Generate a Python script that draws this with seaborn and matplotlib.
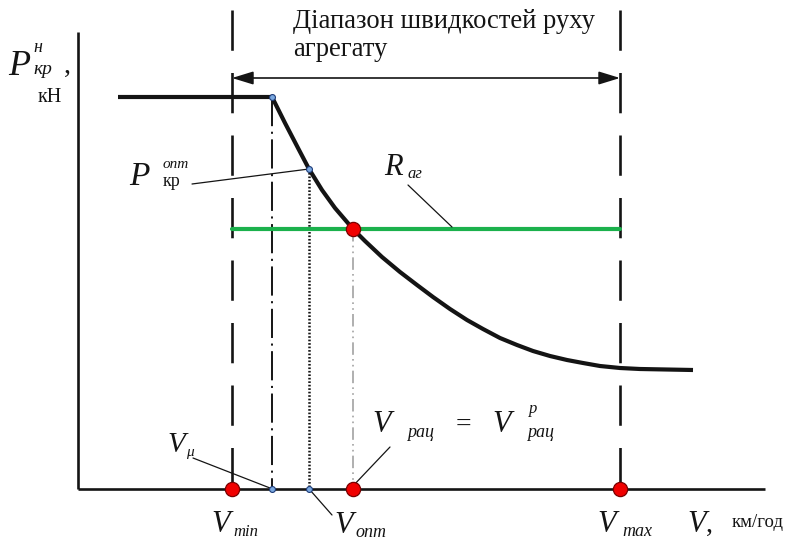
import matplotlib
matplotlib.use("Agg")
import matplotlib.pyplot as plt
import seaborn as sns
import pandas as pd

# Tractive characteristic (schematic units): speed V vs drawbar pull P
speed = [40, 194, 207, 220, 231, 244, 257, 275, 287, 304, 322, 339, 355, 372, 389,
         405, 422, 439, 455, 472, 489, 505, 522, 542, 562, 615]
pull = [392, 392, 366, 341, 320, 299, 281, 260, 248, 232, 217, 204, 192, 180, 169,
        160, 151, 144, 138, 133, 129, 126, 123, 121, 120, 119]

v_min, v_max = 154, 542          # speed range of the unit
v_mu, v_opt, v_rac = 194, 231, 275
p_nom, p_opt = 392, 320
r_ag = 260                       # resistance of the unit

sns.set_theme(style="white")
plt.rcParams["lines.scale_dashes"] = False
plt.rcParams["font.family"] = ["Liberation Serif", "DejaVu Serif"]

fig = plt.figure(figsize=(7.96, 5.41), dpi=100)
ax = fig.add_axes([0, 0, 1, 1])
ax.set_xlim(-78, 718)
ax.set_ylim(-52, 489)
ax.axis("off")

INK = "#141414"

# axes
ax.plot([0, 0], [0, 457], color=INK, lw=1.9, solid_capstyle="butt")
ax.plot([0, 687], [0, 0], color=INK, lw=1.9, solid_capstyle="butt")

# boundaries of the speed range
for v in (v_min, v_max):
    ax.plot([v, v], [479, 0], color=INK, lw=1.9, linestyle=(0, (29, 16)))

# double arrow over the speed range
ax.annotate("", xy=(v_max, 411), xytext=(v_min, 411),
            arrowprops=dict(arrowstyle="<|-|>,head_length=0.65,head_width=0.2",
                            mutation_scale=20, lw=1.2, color=INK,
                            shrinkA=0, shrinkB=0))

# projections of the characteristic points
ax.plot([v_mu, v_mu], [p_nom, 0], color=INK, lw=1.4, linestyle=(0, (21, 4, 1.5, 4)))
ax.plot([v_opt, v_opt], [p_opt, 0], color=INK, lw=1.8, linestyle=(0, (1.2, 1.3)))
ax.plot([v_rac, v_rac], [r_ag, 0], color="#9a9a9a", lw=1.1,
        linestyle=(0, (9, 3, 1.2, 3, 1.2, 3)))

# resistance line
sns.lineplot(x=[v_min, v_max], y=[r_ag, r_ag], ax=ax, color="#1bb14c", lw=3.0)

# drawbar pull curve
curve = pd.DataFrame({"V": speed, "P": pull})
sns.lineplot(data=curve, x="V", y="P", sort=False, ax=ax, color=INK, lw=3.0,
             solid_joinstyle="round", solid_capstyle="butt")

# leader lines
leaders = [((192, 184), (309, 169)), ((408, 185), (452, 227)),
           ((352, 487), (390, 447)), ((193, 458), (270, 488)),
           ((310, 490), (332, 515))]
for (x1, y1), (x2, y2) in leaders:
    ax.plot([x1 - 78, x2 - 78], [489 - y1, 489 - y2], color=INK, lw=0.9)

# characteristic points
blue_pts = pd.DataFrame({"V": [v_mu, v_opt, v_mu, v_opt], "P": [p_nom, p_opt, 0, 0]})
sns.scatterplot(data=blue_pts, x="V", y="P", ax=ax, s=18, color="#7aa8e0",
                edgecolor="#1e3c78", linewidth=0.8, zorder=5)
red_pts = pd.DataFrame({"V": [v_rac, v_min, v_rac, v_max], "P": [r_ag, 0, 0, 0]})
sns.scatterplot(data=red_pts, x="V", y="P", ax=ax, s=105, color="#f00000",
                edgecolor="#7a0000", linewidth=0.9, zorder=6)


def put(px, py, s, size, italic=True, **kw):
    ax.text(px - 78, 489 - py, s, fontsize=size, color=INK,
            fontstyle="italic" if italic else "normal",
            ha="left", va="baseline", **kw)


# y axis title
put(8, 75, "P", 26)
put(33, 52, "н", 13)
put(33, 74, "кр", 14)
put(64, 73, ",", 20, italic=False)
put(38, 102, "кН", 14.5, italic=False)

# speed range caption
put(293, 28, "Діапазон швидкостей руху", 19.2, italic=False)
put(293, 56, "агрегату", 19.2, italic=False)

# P opt
put(129, 185, "P", 24)
put(163, 168, "опт", 11)
put(163, 186, "кр", 13, italic=False)

# R ag
put(384, 175, "R", 22)
put(407, 178, "аг", 12)

# V rac = V^p rac
put(372, 432, "V", 22)
put(407, 437, "рац", 13)
put(456, 432, "=", 20, italic=False)
put(492, 432, "V", 22)
put(529, 413, "р", 12)
put(527, 437, "рац", 13)

# V mu
put(167, 452, "V", 21)
put(186, 456, "μ", 11)

# axis-level speeds
put(211, 532, "V", 22)
put(233, 536, "min", 12)
put(334, 533, "V", 22)
put(355, 537, "опт", 13)
put(597, 532, "V", 22)
put(622, 536, "max", 13)
put(687, 532, "V", 22)
put(706, 532, ",", 20, italic=False)
put(732, 527, "км/год", 13.5, italic=False)

fig.savefig("out.png", dpi=100)
